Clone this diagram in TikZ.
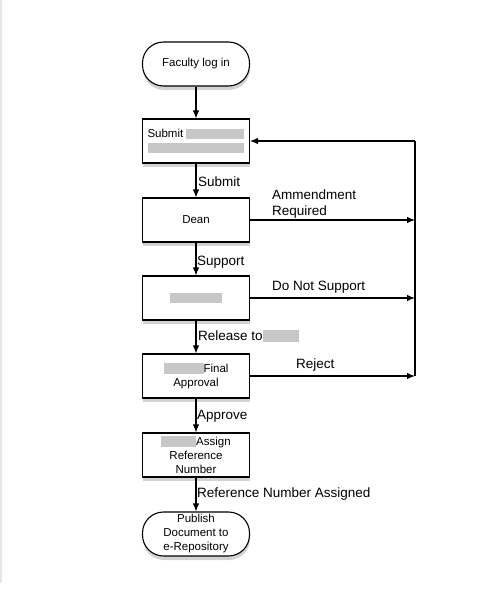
\documentclass[tikz,border=0pt]{standalone}
\usepackage{fontspec}
\setmainfont{Liberation Sans}
\usepackage{tikz}
\usetikzlibrary{arrows.meta,shadows}
\newcommand{\smudge}[1]{\textcolor{black!22}{\rule[-0.2ex]{#1}{1.7ex}}}

\begin{document}
\begin{tikzpicture}[x=1pt,y=1pt,
  box/.style={draw, line width=1.1pt, fill=white, minimum width=107pt, minimum height=44pt,
    inner ysep=2pt, align=center, font={\fontsize{11.5}{14}\selectfont},
    drop shadow={shadow xshift=0.5pt,shadow yshift=-4pt,opacity=0.35}},
  term/.style={box, rounded corners=21pt},
  flow/.style={line width=1.1pt, -{Latex[length=8pt,width=6.5pt]}},
  lbl/.style={anchor=west, align=left, inner sep=1pt, font={\fontsize{13.5}{16}\selectfont}}]
\useasboundingbox (0,0) rectangle (500,-600);
\draw[black!10, line width=1.5pt] (1,0) -- (1,-583);
%
\node[term] (login) at (196,-64) {Faculty log in};
\node[box] (submit) at (196,-141) {Submit \smudge{58pt}\\\smudge{96pt}};
\node[box] (dean) at (196,-220) {Dean};
\node[box] (review) at (196,-298) {\smudge{52pt}};
\node[box] (final) at (196,-376) {\smudge{40pt}Final\\Approval};
\node[box] (assign) at (196,-455) {\smudge{35pt}Assign\\Reference\\Number};
\node[term] (publish) at (196,-534) {Publish\\Document to\\e-Repository};
%
\draw[flow] (login) -- (submit);
\draw[flow] (submit) -- (dean);
\draw[flow] (dean) -- (review);
\draw[flow] (review) -- (final);
\draw[flow] (final) -- (assign);
\draw[flow] (assign) -- (publish);
%
\coordinate (railtop) at (415,-141);
\coordinate (railbot) at (415,-376);
\draw[line width=1.1pt] (railbot) -- (railtop);
\draw[flow] (railtop) -- (submit.east);
\draw[flow] (dean.east) -- (dean.east -| railtop);
\draw[flow] (review.east) -- (review.east -| railtop);
\draw[flow] (final.east) -- (final.east -| railtop);
%
\node[lbl] (lsubmit) at (197,-182) {Submit};
\node[lbl] (lamend) at (271,-204) {Ammendment\\Required};
\node[lbl] (lsupport) at (196,-262) {Support};
\node[lbl] (lnot) at (271,-287) {Do Not Support};
\node[lbl] (lrelease) at (197,-336) {Release to\smudge{36pt}};
\node[lbl] (lreject) at (295,-365) {Reject};
\node[lbl] (lapprove) at (196,-416) {Approve};
\node[lbl] (lassigned) at (196,-494) {Reference Number Assigned};
\end{tikzpicture}
\end{document}
